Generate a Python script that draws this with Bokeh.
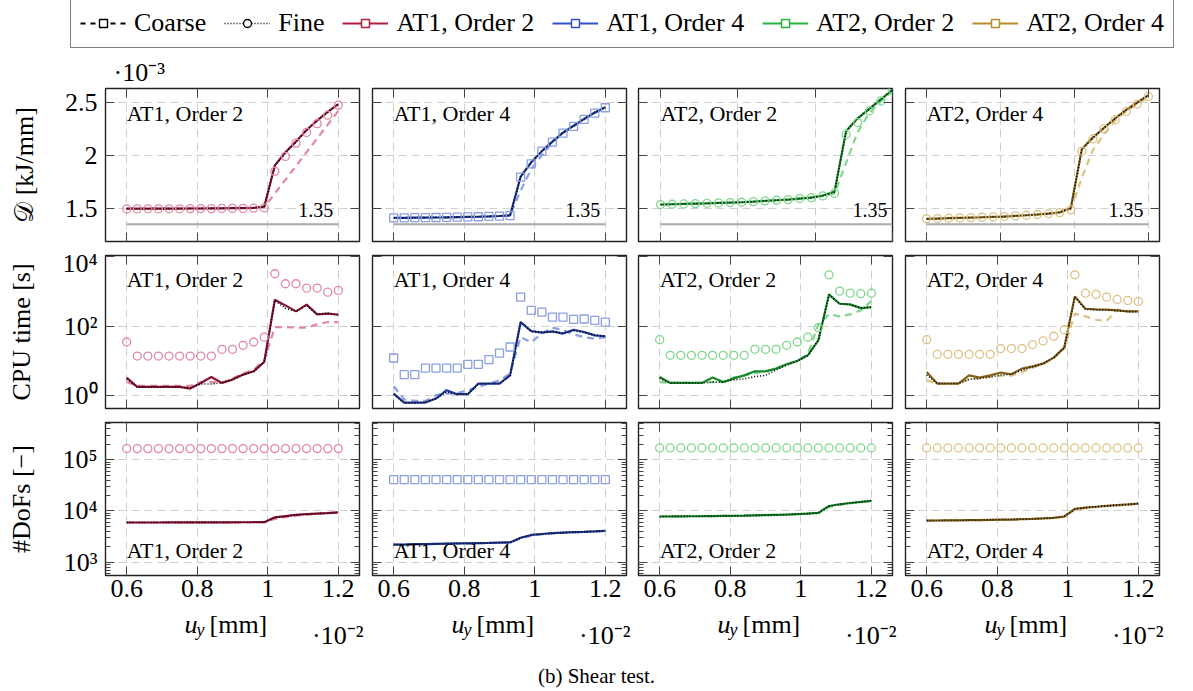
from bokeh.plotting import figure
from bokeh.models import (Range1d, FixedTicker, CustomJSTickFormatter, LinearAxis, LogAxis,
                          Label, Legend, LegendItem)
from bokeh.layouts import column, row
from bokeh.embed import file_html
from bokeh.resources import INLINE

FONT = "Liberation Serif"

# ---------------------------------------------------------------- data
# imposed displacement u_y (in units of 1e-2 mm)
u_y = [0.60, 0.63, 0.66, 0.69, 0.72, 0.75, 0.78, 0.81, 0.84, 0.87, 0.90,
       0.93, 0.96, 0.99, 1.02, 1.05, 1.08, 1.11, 1.14, 1.17, 1.20]

models = ["AT1, Order 2", "AT1, Order 4", "AT2, Order 2", "AT2, Order 4"]
model_colors = ["#b41e41", "#3250c8", "#28b43c", "#b98c28"]
model_dark = ["#8f1535", "#1f3a9a", "#17892a", "#86621a"]
model_light = ["#e287a0", "#8c9fe0", "#7fd68d", "#dcc184"]
model_markers = ["circle", "square", "circle", "circle"]

# dissipated energy D (x 1e-3 kJ/mm)
diss_threshold = 1.35
diss_at1o2_main = [1.496, 1.496, 1.496, 1.497, 1.497, 1.497, 1.498, 1.498, 1.499, 1.500, 1.501, 1.502, 1.504, 1.515, 1.905, 2.030, 2.130, 2.240, 2.330, 2.410, 2.485]
diss_at1o2_dot = [1.496, 1.496, 1.496, 1.497, 1.497, 1.497, 1.498, 1.498, 1.499, 1.500, 1.501, 1.502, 1.504, 1.515, 1.900, 2.025, 2.130, 2.240, 2.330, 2.410, 2.485]
diss_at1o2_coarse = [1.497, 1.497, 1.497, 1.498, 1.498, 1.498, 1.499, 1.499, 1.500, 1.501, 1.502, 1.503, 1.505, 1.510, 1.640, 1.770, 1.900, 2.030, 2.160, 2.290, 2.420]
diss_at1o2_fine = [1.494, 1.494, 1.495, 1.495, 1.495, 1.495, 1.497, 1.497, 1.497, 1.499, 1.499, 1.499, 1.501, 1.503, 1.849, 1.990, 2.116, 2.217, 2.300, 2.380, 2.475]

diss_at1o4_main = [1.409, 1.410, 1.411, 1.412, 1.413, 1.414, 1.416, 1.418, 1.420, 1.423, 1.427, 1.432, 1.800, 1.935, 2.040, 2.130, 2.215, 2.280, 2.345, 2.405, 2.455]
diss_at1o4_dot = [1.409, 1.410, 1.411, 1.412, 1.413, 1.414, 1.416, 1.418, 1.420, 1.423, 1.427, 1.432, 1.795, 1.930, 2.040, 2.130, 2.215, 2.280, 2.345, 2.405, 2.455]
diss_at1o4_coarse = [1.409, 1.410, 1.411, 1.412, 1.413, 1.414, 1.416, 1.418, 1.420, 1.423, 1.427, 1.432, 1.667, 1.870, 2.000, 2.120, 2.210, 2.274, 2.340, 2.400, 2.450]
diss_at1o4_fine = [1.409, 1.410, 1.411, 1.412, 1.413, 1.414, 1.416, 1.418, 1.420, 1.423, 1.426, 1.430, 1.795, 1.920, 2.040, 2.125, 2.210, 2.274, 2.340, 2.400, 2.450]

diss_at2o2_main = [1.535, 1.538, 1.541, 1.544, 1.547, 1.551, 1.554, 1.557, 1.563, 1.570, 1.576, 1.582, 1.592, 1.601, 1.620, 1.657, 2.230, 2.350, 2.440, 2.530, 2.620]
diss_at2o2_dot = [1.535, 1.538, 1.541, 1.544, 1.547, 1.551, 1.554, 1.557, 1.563, 1.570, 1.576, 1.582, 1.592, 1.601, 1.620, 1.655, 2.225, 2.350, 2.440, 2.530, 2.620]
diss_at2o2_coarse = [1.535, 1.538, 1.541, 1.544, 1.547, 1.551, 1.554, 1.557, 1.563, 1.570, 1.576, 1.582, 1.592, 1.601, 1.617, 1.640, 1.930, 2.220, 2.400, 2.510, 2.610]
diss_at2o2_fine = [1.535, 1.538, 1.541, 1.544, 1.547, 1.551, 1.554, 1.557, 1.563, 1.570, 1.576, 1.582, 1.592, 1.601, 1.617, 1.642, 2.198, 2.310, 2.420, 2.514, 2.615]

diss_at2o4_main = [1.400, 1.403, 1.406, 1.409, 1.412, 1.415, 1.419, 1.422, 1.428, 1.434, 1.441, 1.450, 1.462, 1.500, 2.060, 2.170, 2.260, 2.350, 2.430, 2.500, 2.570]
diss_at2o4_dot = [1.400, 1.403, 1.406, 1.409, 1.412, 1.415, 1.419, 1.422, 1.428, 1.434, 1.441, 1.450, 1.462, 1.500, 2.055, 2.165, 2.260, 2.350, 2.430, 2.500, 2.570]
diss_at2o4_coarse = [1.400, 1.403, 1.406, 1.409, 1.412, 1.415, 1.419, 1.422, 1.428, 1.434, 1.441, 1.450, 1.460, 1.490, 1.790, 2.050, 2.200, 2.330, 2.415, 2.485, 2.557]
diss_at2o4_fine = [1.400, 1.403, 1.406, 1.409, 1.412, 1.415, 1.419, 1.422, 1.428, 1.434, 1.441, 1.450, 1.459, 1.485, 2.040, 2.155, 2.250, 2.335, 2.415, 2.485, 2.557]

# CPU time [s]
cpu_at1o2_main = [3.37, 1.82, 1.82, 1.82, 1.82, 1.82, 1.63, 2.36, 3.5, 2.36, 2.95, 4.1, 5.1, 9.5, 583, 400, 269, 420, 221, 231, 216]
cpu_at1o2_dot = [3.0, 1.82, 1.82, 1.82, 1.82, 1.82, 1.7, 2.2, 2.2, 2.4, 2.95, 4.0, 5.0, 9.5, 560, 330, 269, 400, 221, 240, 216]
cpu_at1o2_coarse = [2.5, 1.94, 1.94, 1.94, 1.94, 1.94, 1.94, 2.5, 2.5, 2.4, 3.16, 4.4, 5.7, 10.5, 95, 95, 92, 92, 114, 133, 133]
cpu_at1o2_fine = [35.5, 14, 14, 14, 14, 14, 14, 14, 14, 21.9, 21.9, 28.5, 35.5, 49, 3250, 1680, 1680, 1260, 1260, 960, 1080]

cpu_at1o4_main = [1.17, 0.645, 0.645, 0.645, 0.84, 1.46, 1.12, 1.12, 2.27, 2.27, 2.27, 3.9, 133, 73, 66, 72, 62, 80, 69, 55, 52]
cpu_at1o4_dot = [1.1, 0.62, 0.62, 0.66, 0.84, 1.3, 1.1, 1.12, 2.2, 2.27, 2.27, 3.8, 130, 72, 68, 70, 64, 75, 66, 56, 52]
cpu_at1o4_coarse = [1.9, 0.79, 0.72, 0.72, 1.05, 1.17, 1.2, 1.46, 1.82, 2.27, 2.8, 4.4, 49, 35, 62, 92, 77, 59, 49, 44, 49]
cpu_at1o4_fine = [12.3, 4.1, 4.1, 6.3, 6.3, 6.3, 6.3, 8.1, 8.1, 11.1, 17.1, 25.5, 692, 288, 257, 185, 185, 158, 163, 148, 133]

cpu_at2o2_main = [3.5, 2.36, 2.36, 2.36, 2.36, 3.37, 2.5, 3.2, 3.9, 5.1, 5.1, 6.1, 8.1, 10.1, 14.7, 40, 828, 447, 428, 335, 355]
cpu_at2o2_dot = [3.2, 2.36, 2.36, 2.36, 2.36, 2.5, 2.5, 2.9, 3.1, 3.6, 3.9, 5.6, 7.6, 10.1, 14.7, 40, 800, 447, 420, 340, 350]
cpu_at2o2_coarse = [2.5, 2.36, 2.36, 2.36, 2.36, 2.5, 2.5, 3.4, 3.9, 4.5, 5.1, 6.1, 8.1, 10.1, 16, 115, 221, 194, 221, 288, 532]
cpu_at2o2_fine = [41.5, 14.7, 14.7, 14.7, 14.7, 14.7, 14.7, 14.7, 14.7, 21.9, 21.9, 21.9, 28.5, 35.5, 49, 92, 3040, 1030, 900, 870, 900]

cpu_at2o4_main = [4.9, 2.27, 2.27, 2.27, 3.9, 3.37, 3.9, 4.7, 4.2, 6.1, 7.1, 8.5, 12.6, 24.5, 727, 321, 308, 301, 288, 269, 269]
cpu_at2o4_dot = [4.0, 2.27, 2.27, 2.27, 3.0, 3.2, 3.5, 4.0, 4.2, 5.5, 6.8, 8.5, 12.6, 24.5, 700, 310, 300, 295, 285, 265, 265]
cpu_at2o4_coarse = [2.8, 2.27, 2.27, 2.27, 3.0, 3.2, 3.5, 3.8, 3.8, 4.8, 6.5, 8.1, 12, 23, 232, 194, 155, 142, 300, 280, 257]
cpu_at2o4_fine = [41.5, 15.7, 15.7, 15.7, 15.7, 15.7, 15.7, 23, 23, 23, 30, 38, 52, 80, 3040, 900, 828, 692, 595, 557, 521]

# number of degrees of freedom
dofs_at1o2_main = [5950, 5950, 5960, 5960, 5970, 5970, 5980, 5990, 6000, 6000, 6010, 6020, 6030, 6050, 7500, 7900, 8400, 8700, 8900, 9100, 9400]
dofs_at1o2_dot = [5950, 5950, 5960, 5960, 5970, 5970, 5980, 5990, 6000, 6000, 6010, 6020, 6030, 6050, 7450, 7900, 8400, 8700, 8900, 9100, 9400]
dofs_at1o2_coarse = [5950, 5950, 5960, 5960, 5970, 5970, 5980, 5990, 6000, 6000, 6010, 6020, 6030, 6050, 7000, 7600, 8100, 8500, 8800, 9100, 9300]
dofs_at1o2_fine = [165000, 165000, 165000, 165000, 165000, 165000, 165000, 165000, 165000, 165000, 165000, 165000, 165000, 165000, 165000, 165000, 165000, 165000, 165000, 165000, 165000]

dofs_at1o4_main = [2200, 2210, 2250, 2260, 2280, 2300, 2320, 2340, 2360, 2380, 2410, 2430, 3000, 3400, 3550, 3700, 3780, 3850, 3920, 4000, 4100]
dofs_at1o4_dot = [2200, 2210, 2250, 2260, 2280, 2300, 2320, 2340, 2360, 2380, 2410, 2430, 2980, 3400, 3550, 3700, 3780, 3850, 3920, 4000, 4100]
dofs_at1o4_coarse = [2200, 2210, 2240, 2250, 2270, 2290, 2310, 2330, 2350, 2370, 2400, 2420, 2900, 3300, 3500, 3650, 3750, 3830, 3900, 3980, 4080]
dofs_at1o4_fine = [41000, 41000, 41000, 41000, 41000, 41000, 41000, 41000, 41000, 41000, 41000, 41000, 41000, 41000, 41000, 41000, 41000, 41000, 41000, 41000, 41000]

dofs_at2o2_main = [7800, 7820, 7850, 7880, 7900, 7950, 8000, 8050, 8100, 8200, 8300, 8400, 8500, 8700, 8900, 9200, 12500, 13500, 14300, 15000, 15800]
dofs_at2o2_dot = [7800, 7820, 7850, 7880, 7900, 7950, 8000, 8050, 8100, 8200, 8300, 8400, 8500, 8700, 8900, 9200, 12400, 13500, 14300, 15000, 15800]
dofs_at2o2_coarse = [7800, 7820, 7850, 7880, 7900, 7950, 8000, 8050, 8100, 8200, 8300, 8400, 8500, 8700, 8900, 9100, 12000, 13200, 14000, 14800, 15600]
dofs_at2o2_fine = [170000, 170000, 170000, 170000, 170000, 170000, 170000, 170000, 170000, 170000, 170000, 170000, 170000, 170000, 170000, 170000, 170000, 170000, 170000, 170000, 170000]

dofs_at2o4_main = [6500, 6520, 6550, 6580, 6620, 6650, 6700, 6750, 6800, 6900, 7000, 7150, 7350, 7800, 11000, 11600, 12100, 12600, 13000, 13400, 13900]
dofs_at2o4_dot = [6500, 6520, 6550, 6580, 6620, 6650, 6700, 6750, 6800, 6900, 7000, 7150, 7350, 7800, 10900, 11600, 12100, 12600, 13000, 13400, 13900]
dofs_at2o4_coarse = [6500, 6520, 6550, 6580, 6620, 6650, 6700, 6750, 6800, 6900, 7000, 7150, 7350, 7700, 10500, 11300, 11900, 12400, 12800, 13200, 13700]
dofs_at2o4_fine = [170000, 170000, 170000, 170000, 170000, 170000, 170000, 170000, 170000, 170000, 170000, 170000, 170000, 170000, 170000, 170000, 170000, 170000, 170000, 170000, 170000]

# tick values
x_tick_values = [0.6, 0.8, 1.0, 1.2]
diss_tick_values = [1.5, 2.0, 2.5]
cpu_tick_values = [1, 100, 10000]
dofs_tick_values = [1e3, 1e4, 1e5]
dofs_minor_values = [m * d for d in (100, 1000, 10000, 100000) for m in range(2, 10)]

diss_sets = [
    (diss_at1o2_main, diss_at1o2_dot, diss_at1o2_coarse, diss_at1o2_fine),
    (diss_at1o4_main, diss_at1o4_dot, diss_at1o4_coarse, diss_at1o4_fine),
    (diss_at2o2_main, diss_at2o2_dot, diss_at2o2_coarse, diss_at2o2_fine),
    (diss_at2o4_main, diss_at2o4_dot, diss_at2o4_coarse, diss_at2o4_fine),
]
cpu_sets = [
    (cpu_at1o2_main, cpu_at1o2_dot, cpu_at1o2_coarse, cpu_at1o2_fine),
    (cpu_at1o4_main, cpu_at1o4_dot, cpu_at1o4_coarse, cpu_at1o4_fine),
    (cpu_at2o2_main, cpu_at2o2_dot, cpu_at2o2_coarse, cpu_at2o2_fine),
    (cpu_at2o4_main, cpu_at2o4_dot, cpu_at2o4_coarse, cpu_at2o4_fine),
]
dofs_sets = [
    (dofs_at1o2_main, dofs_at1o2_dot, dofs_at1o2_coarse, dofs_at1o2_fine),
    (dofs_at1o4_main, dofs_at1o4_dot, dofs_at1o4_coarse, dofs_at1o4_fine),
    (dofs_at2o2_main, dofs_at2o2_dot, dofs_at2o2_coarse, dofs_at2o2_fine),
    (dofs_at2o4_main, dofs_at2o4_dot, dofs_at2o4_coarse, dofs_at2o4_fine),
]

# ---------------------------------------------------------------- layout / style
COL_BORDERS = [(105, 6), (7, 6), (6, 7), (6, 34)]
FRAME_LEFTS = [105, 372, 638, 905]
ROW_BORDERS = [(1, 7), (7, 7), (7, 34)]
FRAME_W, FRAME_H = 254, 153

TOP_X_RANGES = [(0.54, 1.26), (0.54, 1.26), (0.543, 1.2), (0.543, 1.23)]
X_RANGE = (0.54, 1.26)
DISS_RANGE = (1.186, 2.632)
CPU_RANGE = (0.435, 10890)
DOFS_RANGE = (550, 533000)

XFMT = CustomJSTickFormatter(code="return (Math.round(tick*100)/100).toString();")
POWFMT = CustomJSTickFormatter(code="""
const sup = {"0":"\u2070","1":"\u00b9","2":"\u00b2","3":"\u00b3","4":"\u2074","5":"\u2075",
             "6":"\u2076","7":"\u2077","8":"\u2078","9":"\u2079","-":"\u207b"};
const e = Math.round(Math.log10(tick));
return "10" + String(e).split("").map(c => sup[c]).join("");
""")


def style_axis(ax, ticker, fmt, show, standoff=8):
    ax.ticker = ticker
    ax.formatter = fmt
    ax.axis_line_color = None
    ax.major_tick_in = 9
    ax.major_tick_out = 0
    ax.minor_tick_in = 5
    ax.minor_tick_out = 0
    ax.major_tick_line_color = "#444444"
    ax.minor_tick_line_color = "#444444"
    ax.major_tick_line_width = 1
    ax.minor_tick_line_width = 1
    if show:
        ax.major_label_text_font = FONT
        ax.major_label_text_font_size = "26px"
        ax.major_label_text_color = "black"
        ax.major_label_standoff = standoff
    else:
        ax.major_label_text_font_size = "0px"
        ax.major_label_text_color = None
        ax.major_label_standoff = 0


def text_strip(height):
    s = figure(width=1193, height=height, x_range=Range1d(0, 1), y_range=Range1d(0, 1),
               output_backend="svg", toolbar_location=None, min_border=0,
               x_axis_location=None, y_axis_location=None)
    s.outline_line_color = None
    s.xgrid.visible = False
    s.ygrid.visible = False
    return s


def make_panel(ci, ri, x_rng, y_rng, ylog, y_ticks, y_minor, yfmt, series, name_y, ylabel=None):
    lb, rb = COL_BORDERS[ci]
    tb, bb = ROW_BORDERS[ri]
    p = figure(width=lb + FRAME_W + rb, height=tb + FRAME_H + bb,
               x_range=Range1d(*x_rng), y_range=Range1d(*y_rng),
               y_axis_type="log" if ylog else "linear",
               output_backend="svg", toolbar_location=None,
               min_border_left=lb, min_border_right=rb,
               min_border_top=tb, min_border_bottom=bb)
    p.outline_line_color = "#222222"
    p.outline_line_width = 1.4
    p.background_fill_color = "white"
    p.border_fill_color = "white"

    xt = FixedTicker(ticks=x_tick_values, minor_ticks=[])
    yt = FixedTicker(ticks=y_ticks, minor_ticks=y_minor)
    style_axis(p.xaxis[0], xt, XFMT, ri == 2, standoff=4)
    style_axis(p.yaxis[0], yt, yfmt, ci == 0, standoff=8)
    top = LinearAxis()
    style_axis(top, xt, XFMT, False)
    p.add_layout(top, "above")
    right = LogAxis() if ylog else LinearAxis()
    style_axis(right, yt, yfmt, False)
    p.add_layout(right, "right")

    for g, t in ((p.xgrid[0], xt), (p.ygrid[0], yt)):
        g.ticker = t
        g.grid_line_color = "#cfcfcf"
        g.grid_line_width = 1
        g.grid_line_dash = "8 5"

    if ylabel is not None:
        ax = p.yaxis[0]
        ax.axis_label = ylabel
        ax.axis_label_text_font = FONT
        ax.axis_label_text_font_size = "26px"
        ax.axis_label_text_font_style = "normal"
        ax.axis_label_text_color = "black"
        ax.axis_label_standoff = 23

    main, dot, coarse, fine = series
    light = model_light[ci]
    p.line(u_y, coarse, line_color=light, line_width=2.2, line_dash="7 5")
    p.line(u_y, main, line_color=model_dark[ci], line_width=2.2)
    p.line(u_y, dot, line_color="black", line_width=1.6, line_dash="1 2")
    p.scatter(u_y, fine, marker=model_markers[ci], size=8, line_color=light,
              fill_color=None, line_width=1.3)

    p.add_layout(Label(x=u_y[0], y=name_y, text=models[ci], text_font=FONT,
                       text_font_size="22px", text_align="left",
                       text_baseline="middle", text_color="black"))
    return p


rows = []
# top row: dissipated energy
r = []
for ci in range(4):
    p = make_panel(ci, 0, TOP_X_RANGES[ci], DISS_RANGE, False, diss_tick_values, [], XFMT,
                   diss_sets[ci], 2.398, ylabel="\U0001D49F [kJ/mm]" if ci == 0 else None)
    p.segment(x0=[u_y[0]], y0=[diss_threshold], x1=[u_y[-1]], y1=[diss_threshold],
              line_color="#a9a9a9", line_width=2)
    p.add_layout(Label(x=u_y[-1], y=diss_threshold + 0.133, x_offset=-5, text="1.35",
                       text_font=FONT, text_font_size="20px", text_align="right",
                       text_baseline="middle", text_color="black"))
    r.append(p)
rows.append(row(*r))

# middle row: CPU time
r = []
for ci in range(4):
    p = make_panel(ci, 1, X_RANGE, CPU_RANGE, True, cpu_tick_values, [], POWFMT,
                   cpu_sets[ci], 2160, ylabel="CPU time [s]" if ci == 0 else None)
    r.append(p)
rows.append(row(*r))

# bottom row: DoFs
r = []
for ci in range(4):
    p = make_panel(ci, 2, X_RANGE, DOFS_RANGE, True, dofs_tick_values, dofs_minor_values, POWFMT,
                   dofs_sets[ci], 1730, ylabel="#DoFs [\u2212]" if ci == 0 else None)
    r.append(p)
rows.append(row(*r))

# legend strip (also carries the y scale factor of the top row)
leg = text_strip(87)
off = [-5]
items = []
l1 = leg.line(off, off, line_color="black", line_width=1.8, line_dash="5 5")
s1 = leg.scatter(off, off, marker="square", size=10, line_color="black", fill_color="white", line_width=1.4)
items.append(LegendItem(label="Coarse", renderers=[l1, s1]))
l2 = leg.line(off, off, line_color="black", line_width=1.6, line_dash="1 2")
s2 = leg.scatter(off, off, marker="circle", size=10, line_color="black", fill_color="white", line_width=1.4)
items.append(LegendItem(label="Fine", renderers=[l2, s2]))
for ci in range(4):
    lc = leg.line(off, off, line_color=model_colors[ci], line_width=2)
    sc = leg.scatter(off, off, marker="square", size=10, line_color=model_colors[ci],
                     fill_color="white", line_width=1.5)
    items.append(LegendItem(label=models[ci], renderers=[lc, sc]))
legend = Legend(items=items, location=(70, 39), orientation="horizontal",
                border_line_color="black", border_line_width=1.3,
                background_fill_color="white", background_fill_alpha=1,
                padding=9, spacing=18, margin=0, label_standoff=8,
                glyph_width=46, glyph_height=20,
                label_text_font=FONT, label_text_font_size="26px",
                label_text_color="black")
leg.add_layout(legend)
leg.add_layout(Label(x=FRAME_LEFTS[0] + 8, y=15, x_units="screen", y_units="screen",
                     text="\u00b710\u207b\u00b3", text_font=FONT, text_font_size="26px",
                     text_align="left", text_baseline="middle", text_color="black"))

# x-axis label strip
xl = text_strip(41)
for ci in range(4):
    fl = FRAME_LEFTS[ci]
    xl.add_layout(Label(x=fl + 79, y=26, x_units="screen", y_units="screen", text="u",
                        text_font=FONT, text_font_size="26px", text_font_style="italic",
                        text_align="left", text_baseline="middle", text_color="black"))
    xl.add_layout(Label(x=fl + 91, y=21, x_units="screen", y_units="screen", text="y",
                        text_font=FONT, text_font_size="18px", text_font_style="italic",
                        text_align="left", text_baseline="middle", text_color="black"))
    xl.add_layout(Label(x=fl + 104, y=26, x_units="screen", y_units="screen", text="[mm]",
                        text_font=FONT, text_font_size="26px",
                        text_align="left", text_baseline="middle", text_color="black"))
    xl.add_layout(Label(x=fl + FRAME_W + 4, y=15, x_units="screen", y_units="screen",
                        text="\u00b710\u207b\u00b2", text_font=FONT, text_font_size="26px",
                        text_align="right", text_baseline="middle", text_color="black"))

# caption strip
cap = text_strip(41)
cap.add_layout(Label(x=596, y=16, x_units="screen", y_units="screen", text="(b) Shear test.",
                     text_font=FONT, text_font_size="21px", text_align="center",
                     text_baseline="middle", text_color="black"))

layout = column(leg, *rows, xl, cap)
open("out.html", "w", encoding="utf-8").write(file_html(layout, INLINE))
